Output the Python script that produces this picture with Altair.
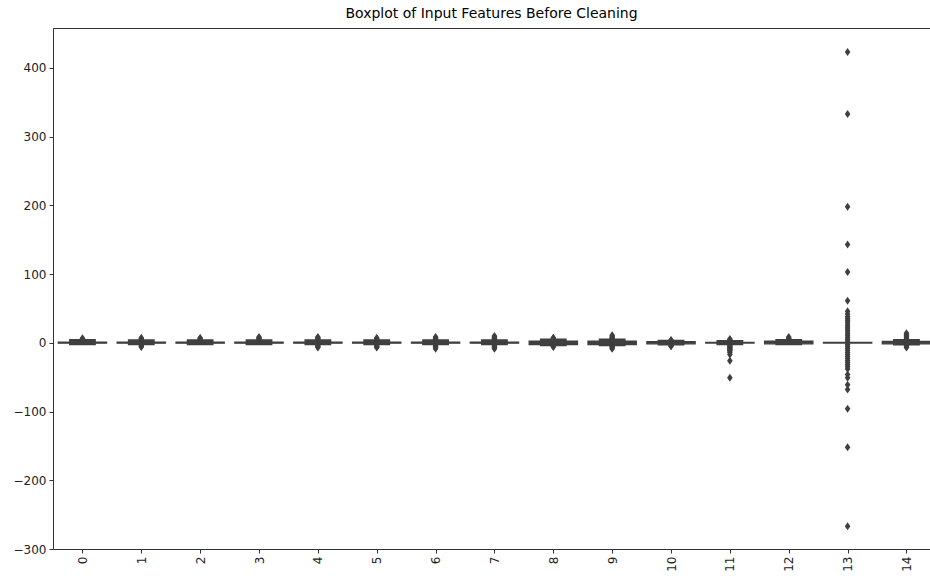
import altair as alt
import pandas as pd

features = list(range(15))
box_q1 = [-0.5, -0.5, -0.5, -0.5, -0.5, -0.5, -0.5, -0.5, -2.5, -2.5, -1.5, -0.4, -1.5, -0.4, -1.5]
box_q3 = [0.8, 0.8, 0.8, 0.8, 0.8, 0.8, 0.8, 0.8, 2.5, 2.5, 1.5, 0.4, 2.5, 0.4, 2.0]
whisk_lo = [-2.5, -2.5, -2.5, -2.5, -2.5, -2.5, -2.5, -2.5, -4.0, -4.0, -3.0, -2.5, -2.5, None, -3.0]
whisk_hi = [4.5, 4.0, 4.0, 4.0, 4.0, 4.0, 4.0, 4.0, 5.0, 5.0, 3.5, 3.0, 4.5, None, 4.5]
outliers = [
    [4.5, 5.5, 6.5],
    [4.5, 5.5, 6.5, 7.0, -4.0, -5.0, -6.0],
    [4.5, 5.5, 6.5, 7.0],
    [4.5, 5.5, 6.5, 7.5, 8.5],
    [4.5, 5.5, 6.5, 7.5, 8.5, -4.0, -5.0, -6.0, -7.0],
    [4.5, 5.5, 6.5, 7.0, -4.0, -5.0, -6.0, -7.0],
    [4.5, 5.5, 6.5, 7.5, 8.5, -4.0, -5.0, -6.0, -7.0, -8.5],
    [4.5, 5.5, 6.5, 7.5, 8.5, 10.0, -4.0, -5.0, -6.0, -7.0, -8.5],
    [5.5, 6.5, 7.3, -4.5, -5.5, -6.0],
    [5.5, 6.5, 7.5, 8.5, 9.5, 11.0, -4.5, -5.5, -6.5, -7.5, -8.5],
    [3.5, 4.0, -3.5, -4.5, -5.0],
    [3.5, 4.5, 5.5, -3.0, -4.0, -5.0, -6.0, -7.0, -8.0, -9.0, -10.0, -11.0, -12.0, -14.0, -17.0, -26.0, -51.0],
    [5.0, 6.0, 7.0, 8.5],
    [423.0, 333.0, 198.0, 143.0, 103.0, 61.0, 46.0, 42.0, 38.0, 35.0, 32.0, 29.0, 26.0, 23.0, 20.0,
     17.0, 14.0, 11.0, 8.0, 5.0, 2.5, -2.5, -5.0, -8.0, -11.0, -14.0, -17.0, -20.0, -23.0, -26.0,
     -29.0, -32.0, -35.0, -38.0, -46.0, -51.0, -61.0, -68.0, -96.0, -152.0, -267.0],
    [5.0, 6.5, 8.0, 9.5, 11.0, 12.5, 14.0, -4.0, -5.5, -7.0],
]

y_ticks = [-300, -200, -100, 0, 100, 200, 300, 400]

GRAY = "#3f3f3f"
FONT = "DejaVu Sans"

box_df = pd.DataFrame({"feature": features, "q1": box_q1, "q3": box_q3})
cap_df = pd.DataFrame({"feature": features, "lo": whisk_lo, "hi": whisk_hi}).dropna()
out_df = pd.DataFrame(
    [{"feature": f, "value": v} for f, vals in zip(features, outliers) for v in vals]
)

xscale = alt.Scale(domain=[-0.5, 14.4], nice=False, zero=False)
yscale = alt.Scale(domain=[-300, 458], nice=False, zero=False)

yaxis = alt.Axis(
    values=y_ticks, format="d", grid=False, tickSize=4, tickColor="#333",
    domainColor="#333", labelFont=FONT, labelFontSize=12, labelColor="#222",
    labelPadding=3, title=None,
)
xaxis_bottom = alt.Axis(
    values=features, format="d", grid=False, tickSize=4, tickColor="#333",
    domainColor="#333", labelFont=FONT, labelFontSize=12, labelColor="#222",
    labelAngle=270, labelPadding=3, title=None, orient="bottom",
)
xaxis_top = alt.Axis(
    orient="top", labels=False, ticks=False, grid=False, domainColor="#333", title=None,
)

boxes = alt.Chart(box_df).transform_calculate(
    x0="datum.feature - 0.41", x1="datum.feature + 0.41"
).mark_rect(fill=GRAY, stroke=GRAY, strokeWidth=1.3, clip=True).encode(
    x=alt.X("x0:Q", scale=xscale, axis=xaxis_bottom),
    x2="x1:Q",
    y=alt.Y("q1:Q", scale=yscale, axis=yaxis),
    y2="q3:Q",
)

caps = alt.Chart(cap_df).transform_calculate(
    x0="datum.feature - 0.215", x1="datum.feature + 0.215"
).mark_rect(fill=GRAY, stroke=GRAY, strokeWidth=1.5, clip=True).encode(
    x=alt.X("x0:Q", scale=xscale, axis=None),
    x2="x1:Q",
    y=alt.Y("lo:Q", scale=yscale, axis=yaxis),
    y2="hi:Q",
)

points = alt.Chart(out_df).mark_point(
    shape="M0,-1L0.7,0L0,1L-0.7,0Z", filled=True, size=64, color=GRAY, opacity=1, clip=True
).encode(
    x=alt.X("feature:Q", scale=xscale, axis=xaxis_top),
    y=alt.Y("value:Q", scale=yscale, axis=yaxis),
)

chart = alt.layer(boxes, caps, points).resolve_axis(x="independent").properties(
    width=877,
    height=521,
    padding={"left": 53, "top": 28, "right": 0, "bottom": 31},
    autosize=alt.AutoSizeParams(type="none"),
    title=alt.TitleParams(
        "Boxplot of Input Features Before Cleaning",
        font=FONT, fontSize=14, fontWeight="normal", color="#000", offset=7, anchor="middle",
    ),
).configure_view(stroke=None).configure(background="white")

chart.save("out.html", embed_options={"renderer": "svg", "actions": False})
